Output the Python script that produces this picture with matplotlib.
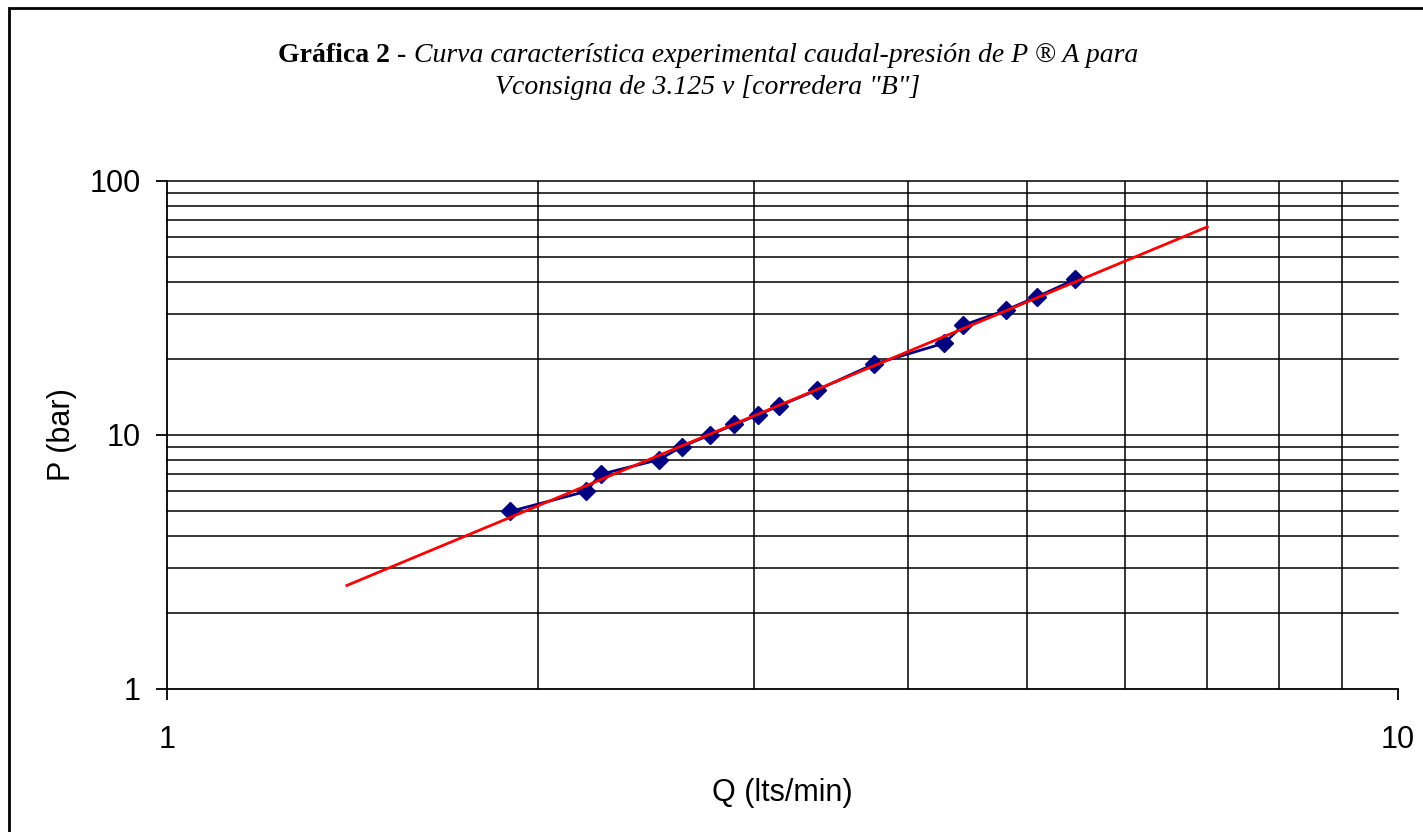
import matplotlib.pyplot as plt
from matplotlib.patches import Rectangle
from matplotlib.ticker import FixedLocator
import numpy as np

# caudal Q (lts/min) y presion P (bar) medidos
caudal = [1.90, 2.19, 2.25, 2.51, 2.62, 2.76, 2.89, 3.02, 3.14, 3.37, 3.75,
          4.28, 4.43, 4.80, 5.09, 5.47]
presion = [5, 6, 7, 8, 9, 10, 11, 12, 13, 15, 19, 23, 27, 31, 35, 41]
# rango de la linea de tendencia (potencial)
tend_desde = 1.4
tend_hasta = 7.0

W, H = 1423, 832
fig = plt.figure(figsize=(W / 100, H / 100), dpi=100)
ax = fig.add_axes([167 / W, 1 - 689 / H, (1398 - 167) / W, (689 - 181) / H])

# marco exterior (solo se ven los bordes izquierdo y superior)
fig.patches.append(Rectangle((9 / W, -0.1), 1.2, 1.1 - 8 / H, transform=fig.transFigure,
                             fill=False, edgecolor="black", linewidth=2, zorder=0))

ax.set_xscale("log")
ax.set_yscale("log")
ax.set_xlim(1, 10)
ax.set_ylim(1, 100)

# rejilla
for v in range(2, 10):
    ax.axvline(v, color="black", lw=1.1, zorder=1)
for d in (1, 10):
    for v in range(2, 11):
        ax.axhline(v * d, color="black", lw=1.1, zorder=1, clip_on=False)

# tendencia potencial ajustada en escala log-log
b, loga = np.polyfit(np.log10(caudal), np.log10(presion), 1)
xt = np.array([tend_desde, tend_hasta])
ax.plot(caudal, presion, color="#000080", lw=2, marker="D", markersize=9.5,
        zorder=3)
ax.plot(xt, 10 ** loga * xt ** b, color="red", lw=2, zorder=4)

for s in ("top", "right"):
    ax.spines[s].set_visible(False)
for s in ("left", "bottom"):
    ax.spines[s].set_linewidth(1.3)

ax.xaxis.set_major_locator(FixedLocator([1, 10]))
ax.yaxis.set_major_locator(FixedLocator([1, 10, 100]))
ax.xaxis.set_minor_locator(FixedLocator([]))
ax.yaxis.set_minor_locator(FixedLocator([]))
ax.set_xticklabels(["1", "10"])
ax.set_yticklabels(["1", "10", "100"])
ax.tick_params(direction="out", length=8, width=1.3, labelsize=22, pad=11,
               labelfontfamily="Liberation Sans")
ax.tick_params(axis="x", pad=18)

ax.set_xlabel("Q (lts/min)", fontsize=22, family="Liberation Sans")
ax.xaxis.set_label_coords(0.5, -(778 - 689) / 508)
ax.set_ylabel("P (bar)", fontsize=22, family="Liberation Sans")
ax.yaxis.set_label_coords((77 - 167) / 1231, 0.5)

# titulo: parte en negrita y parte en cursiva
r = fig.canvas.get_renderer()
t_b = fig.text(0, 1 - 56 / H, "Gráfica 2 - ", fontsize=20, weight="bold",
               family="Liberation Serif", va="center")
t_i = fig.text(0, 1 - 56 / H, "Curva característica experimental caudal-presión de P ® A para",
               fontsize=20, style="italic", family="Liberation Serif", va="center")
wb = t_b.get_window_extent(r).width
wi = t_i.get_window_extent(r).width
x0 = 708 - (wb + wi) / 2
t_b.set_x(x0 / W)
t_i.set_x((x0 + wb) / W)
fig.text(708 / W, 1 - 87 / H, 'Vconsigna de 3.125 v [corredera "B"]', fontsize=20,
         style="italic", family="Liberation Serif", ha="center", va="center")

fig.savefig("out.png", dpi=100)
